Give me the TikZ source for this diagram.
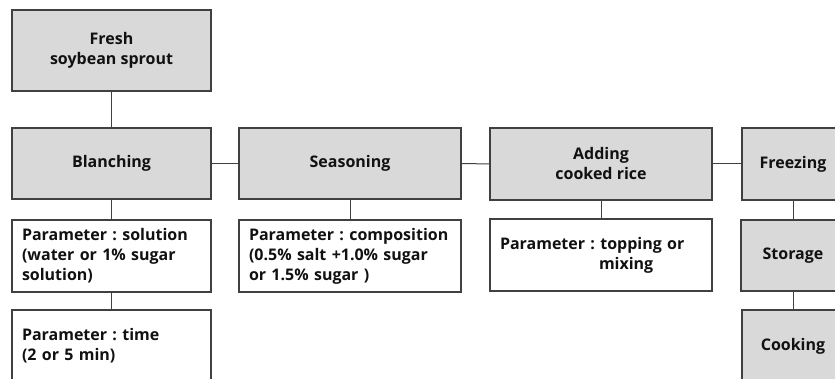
\documentclass[tikz,border=0pt]{standalone}
\usepackage{fontspec}
\setmainfont{Open Sans}
\usetikzlibrary{positioning}
\definecolor{cline}{HTML}{404040}
\definecolor{cgray}{HTML}{D9D9D9}
\definecolor{ctext}{HTML}{111111}
\frenchspacing

\begin{document}
\begin{tikzpicture}[x=1pt, y=-1pt]
    \useasboundingbox (0,0) rectangle (835,379);
    \clip (0,0) rectangle (835,379);
    \begin{scope}[every node/.style={rectangle, draw=cline, line width=1.2pt, fill=cgray, align=center, inner sep=2pt, font=\fontsize{16}{20}\selectfont\bfseries\color{ctext}}]
        \node (fresh) [minimum width=199pt, minimum height=81pt] at (111.5, 50.5) {Fresh\\soybean sprout};
        \node (blanch) [minimum width=199pt, minimum height=71pt] at (111.5, 163.5) {Blanching};
        \node (season) [minimum width=222pt, minimum height=71pt] at (350, 163.5) {Seasoning};
        \node (rice) [minimum width=222pt, minimum height=72pt] at (601, 164) {Adding\\cooked rice};
        \node (freeze) [minimum width=102pt, minimum height=72pt] at (793, 164) {Freezing};
        \node (store) [minimum width=104pt, minimum height=71pt] at (793, 255.5) {Storage};
        \node (cook) [minimum width=102pt, minimum height=72pt] at (793, 346) {Cooking};
    \end{scope}
    \begin{scope}[every node/.style={rectangle, draw=cline, line width=1.2pt, fill=white, align=left, inner xsep=10pt, minimum height=72pt, font=\fontsize{16}{20}\selectfont\bfseries\color{ctext}}]
        \node (p1) [text width=179pt] at (111.5, 256) {Parameter : solution\\(water or 1\% sugar\\solution)};
        \node (p2) [text width=179pt] at (111.5, 346) {Parameter : time\\(2 or 5 min)};
        \node (p3) [text width=202pt] at (350, 256) {Parameter : composition\\(0.5\% salt +1.0\% sugar\\or 1.5\% sugar )};
        \node (p4) [text width=202pt] at (601, 255) {Parameter : topping or\\\hspace*{99pt}mixing};
    \end{scope}
    \draw[cline, line width=1pt] (fresh) -- (blanch);
    \draw[cline, line width=1pt] (blanch) -- (season);
    \draw[cline, line width=1pt] (season) -- (rice);
    \draw[cline, line width=1pt] (rice) -- (freeze);
    \draw[cline, line width=1pt] (freeze) -- (store);
    \draw[cline, line width=1pt] (store) -- (cook);
    \draw[cline, line width=1pt] (blanch) -- (p1);
    \draw[cline, line width=1pt] (p1) -- (p2);
    \draw[cline, line width=1pt] (season) -- (p3);
    \draw[cline, line width=1pt] (rice) -- (p4);
\end{tikzpicture}
\end{document}
